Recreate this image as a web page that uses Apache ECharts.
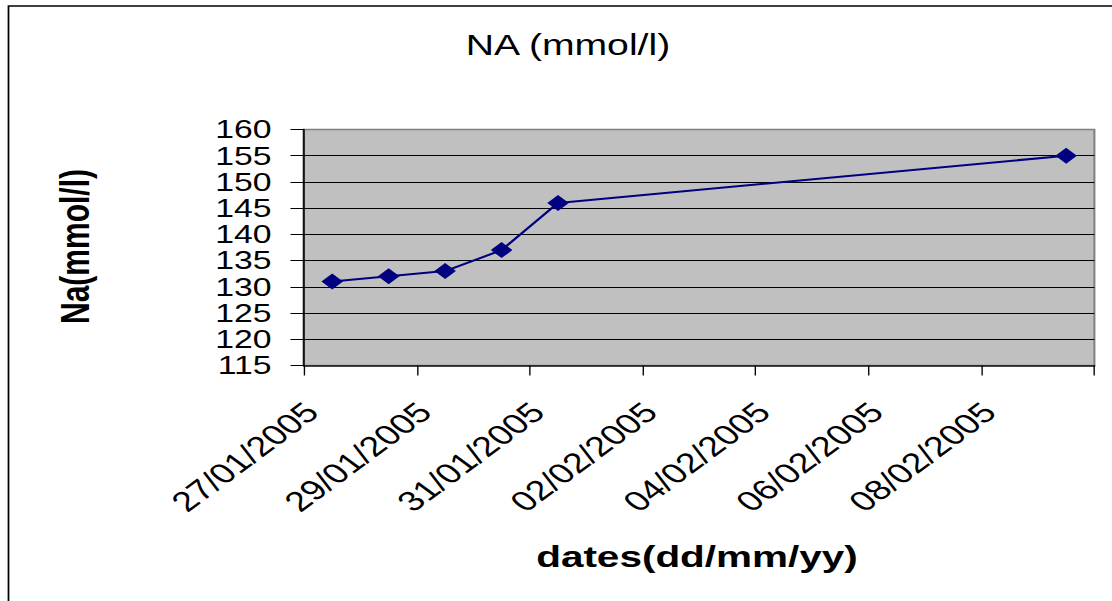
<!DOCTYPE html>
<html>
<head>
<meta charset="utf-8">
<script src="https://cdn.jsdelivr.net/npm/echarts@6/dist/echarts.min.js"></script>
<style>
  html, body { margin: 0; padding: 0; background: #fff; overflow: hidden; }
  #chart { position: absolute; left: 0; top: 0; height: 601px; transform-origin: 0 0; }
</style>
</head>
<body>
<div id="chart"></div>
<script>
// Every calendar day on the date axis (one slot per day)
const days = [
  '27/01/2005', '28/01/2005', '29/01/2005', '30/01/2005', '31/01/2005',
  '01/02/2005', '02/02/2005', '03/02/2005', '04/02/2005', '05/02/2005',
  '06/02/2005', '07/02/2005', '08/02/2005', '09/02/2005'
];
// Days on which sodium was measured, and the measured values
const sampleDates = ['27/01/2005', '28/01/2005', '29/01/2005', '30/01/2005', '31/01/2005', '09/02/2005'];
const sodium = [131, 132, 133, 137, 146, 155];
// Value axis range
const yMin = 115, yMax = 160, yStep = 5;

const titleText = 'NA (mmol/l)';
const xTitle = 'dates(dd/mm/yy)';
const yTitle = 'Na(mmol/l)';

// The sheet is drawn on a narrower canvas and widened horizontally
const STRETCH = 1.35;
const W = 1112 / STRETCH;
const el = document.getElementById('chart');
el.style.width = W + 'px';
el.style.transform = 'scaleX(' + STRETCH + ')';

const FONT = '"Liberation Sans", Arial, sans-serif';
const gridLeft = 304 / STRETCH;
const gridRight = W - 1094 / STRETCH;

const chart = echarts.init(el, null, { renderer: 'svg' });
chart.setOption({
  animation: false,
  backgroundColor: '#ffffff',
  grid: {
    show: true,
    left: gridLeft,
    right: gridRight,
    top: 129.5,
    bottom: 601 - 365.5,
    backgroundColor: '#c0c0c0',
    borderColor: '#808080',
    borderWidth: 1.5
  },
  xAxis: {
    type: 'category',
    data: days,
    boundaryGap: true,
    axisLine: { lineStyle: { color: '#111', width: 1.5 } },
    axisTick: { show: true, interval: 1, length: 10, lineStyle: { color: '#000', width: 1 } },
    axisLabel: {
      interval: 1,
      rotate: 45,
      margin: 57,
      verticalAlign: 'bottom',
      lineHeight: 43,
      fontFamily: FONT,
      fontSize: 28,
      color: '#000'
    },
    splitLine: { show: false }
  },
  yAxis: {
    type: 'value',
    min: yMin,
    max: yMax,
    interval: yStep,
    axisLine: { show: true, lineStyle: { color: '#111', width: 1.5 } },
    axisTick: { show: true, length: 10, lineStyle: { color: '#000', width: 1 } },
    axisLabel: { margin: 24, fontFamily: FONT, fontSize: 25, lineHeight: 22, color: '#000' },
    splitLine: { show: true, showMinLine: false, showMaxLine: false, lineStyle: { color: '#000', width: 1 } }
  },
  series: [{
    type: 'line',
    data: sampleDates.map((d, i) => [d, sodium[i]]),
    symbol: 'diamond',
    symbolSize: 16,
    lineStyle: { color: '#000080', width: 2 },
    itemStyle: { color: '#000080' }
  }],
  graphic: [
    {
      type: 'polyline',
      shape: { points: [[8.5 / STRETCH, 700], [8.5 / STRETCH, 6], [W + 10, 6]] },
      style: { stroke: '#000', lineWidth: 1.3, fill: null },
      silent: true
    },
    {
      type: 'text',
      x: 568 / STRETCH,
      y: 44.7,
      style: { text: titleText, font: 'normal 29px ' + FONT, fill: '#000', align: 'center', verticalAlign: 'middle' }
    },
    {
      type: 'text',
      x: 697 / STRETCH,
      y: 556.7,
      style: { text: xTitle, font: 'bold 30px ' + FONT, fill: '#000', align: 'center', verticalAlign: 'middle' }
    },
    {
      type: 'text',
      x: 75.3 / STRETCH,
      y: 246.5,
      rotation: Math.PI / 2,
      style: { text: yTitle, font: 'bold 30px ' + FONT, fill: '#000', align: 'center', verticalAlign: 'middle' }
    }
  ]
});
</script>
</body>
</html>
